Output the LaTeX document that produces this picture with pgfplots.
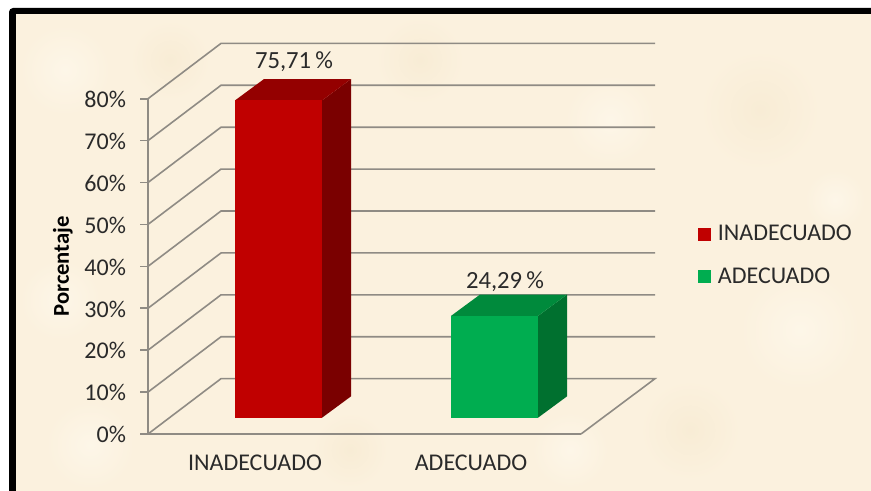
\documentclass[border=0pt]{standalone}
\usepackage{fontspec}
\setmainfont{Carlito}
\usepackage{pgfplots}
\pgfplotsset{compat=1.18}
\definecolor{cream}{HTML}{FBF1DE}
\definecolor{gridg}{HTML}{8F8B84}
\definecolor{txt}{HTML}{2A2A2A}
\definecolor{redF}{HTML}{C00000}
\definecolor{redS}{HTML}{7A0000}
\definecolor{redT}{HTML}{940000}
\definecolor{grnF}{HTML}{00AD50}
\definecolor{grnS}{HTML}{00702F}
\definecolor{grnT}{HTML}{008A3C}
\definecolor{blotL}{HTML}{FDF6E8}
\definecolor{blotD}{HTML}{F8ECD5}
\begin{document}
\begin{tikzpicture}
\path[use as bounding box] (0,0) rectangle (653.25pt,368.25pt);
\begin{scope}[x=.75pt,y=-.75pt,yshift=368.25pt]
\fill[white] (0,0) rectangle (871,491);
\fill[black,rounded corners=3pt] (9,8) rectangle (900,520);
\fill[cream] (16,14) rectangle (871,491);
\foreach \cx/\cy/\r/\c in {65/70/45/blotL,170/60/40/blotD,60/300/40/blotL,90/445/44/blotL,
  420/60/44/blotD,610/120/45/blotL,760/110/60/blotD,800/330/60/blotL,690/430/50/blotD,
  570/450/38/blotL,350/450/38/blotD,835/200/30/blotL}{
  \shade[inner color=\c,outer color=cream] (\cx,\cy) circle (\r);
}
\end{scope}
\begin{axis}[
  at={(111pt,42.75pt)},anchor=south west,
  scale only axis,width=324.75pt,height=251.475pt,
  xmin=148,xmax=581,ymin=0,ymax=80,clip=false,
  axis x line*=bottom,axis y line*=left,
  axis line style={gridg,line width=1.2pt,-},
  ytick={0,10,...,80},
  yticklabels={0\%,10\%,20\%,30\%,40\%,50\%,60\%,70\%,80\%},
  xtick={255,471},xticklabels={INADECUADO,ADECUADO},
  major tick length=6pt,
  tick align=outside,
  ytick style={gridg,line width=1.2pt},
  xtick style={draw=none},
  tick label style={font=\fontsize{18}{20}\selectfont,text=txt},
  yticklabel style={xshift=-7pt,yshift=-0.5pt},
  xticklabel style={yshift=-6pt},
  ylabel={\textbf{Porcentaje}},
  ylabel style={font=\fontsize{17}{19}\selectfont,text=black,at={(axis description cs:-0.163,0.5)}},
  legend cell align=left,
  legend style={at={(axis cs:698,50.6)},anchor=north west,draw=none,fill=none,
    font=\fontsize{18}{20}\selectfont,text=txt,row sep=14.75pt,inner sep=0pt},
  legend image code/.code={\fill[#1] (0pt,-17.5pt) rectangle (9.75pt,-7.75pt);\path (12.75pt,-10pt);},
]
% walls and floor
\addplot[gridg,line width=1.2pt,forget plot] coordinates {(148,0)(221,13.2)(655,13.2)(581,0)};
\addplot[gridg,line width=1.2pt,forget plot] coordinates {(148,10)(221,23.2)(655,23.2)};
\addplot[gridg,line width=1.2pt,forget plot] coordinates {(148,20)(221,33.2)(655,33.2)};
\addplot[gridg,line width=1.2pt,forget plot] coordinates {(148,30)(221,43.2)(655,43.2)};
\addplot[gridg,line width=1.2pt,forget plot] coordinates {(148,40)(221,53.2)(655,53.2)};
\addplot[gridg,line width=1.2pt,forget plot] coordinates {(148,50)(221,63.2)(655,63.2)};
\addplot[gridg,line width=1.2pt,forget plot] coordinates {(148,60)(221,73.2)(655,73.2)};
\addplot[gridg,line width=1.2pt,forget plot] coordinates {(148,70)(221,83.2)(655,83.2)};
\addplot[gridg,line width=1.2pt,forget plot] coordinates {(148,80)(221,93.2)(655,93.2)};
% red column
\addplot[fill=redS,draw=none,forget plot,yshift=12.2pt] coordinates {(322,0)(351,5.1)(351,80.81)(322,75.71)} --cycle;
\addplot[fill=redT,draw=none,forget plot,yshift=12.2pt] coordinates {(235,75.71)(322,75.71)(351,80.81)(264,80.81)} --cycle;
\addplot[ybar,bar width=65.25pt,bar shift=0pt,fill=redF,draw=none,yshift=12.2pt] coordinates {(278.5,75.71)};
\addlegendentry{INADECUADO}
% green column
\addplot[fill=grnS,draw=none,forget plot,yshift=12.2pt] coordinates {(538,0)(567,5.1)(567,29.39)(538,24.29)} --cycle;
\addplot[fill=grnT,draw=none,forget plot,yshift=12.2pt] coordinates {(451,24.29)(538,24.29)(567,29.39)(480,29.39)} --cycle;
\addplot[ybar,bar width=65.25pt,bar shift=0pt,fill=grnF,draw=none,yshift=12.2pt] coordinates {(494.5,24.29)};
\addlegendentry{ADECUADO}
\node[font=\fontsize{18.5}{20}\selectfont,text=txt] at (axis cs:294,88.8) {75,71\,\%};
\node[font=\fontsize{18.5}{20}\selectfont,text=txt] at (axis cs:505,36.3) {24,29\,\%};
\end{axis}
\end{tikzpicture}
\end{document}
